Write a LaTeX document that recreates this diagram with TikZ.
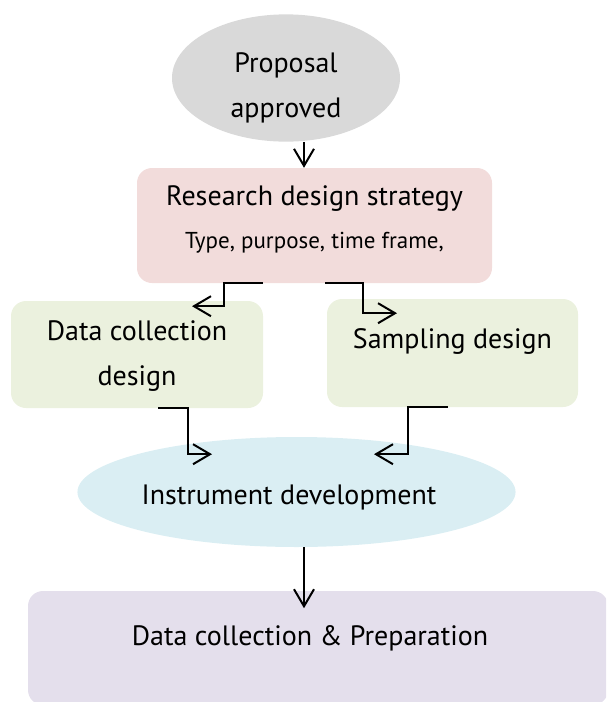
\documentclass[tikz,border=0pt]{standalone}
\usepackage{fontspec}
\setmainfont{PT Sans}
\usetikzlibrary{shapes.geometric,arrows.meta}
\definecolor{greyfill}{HTML}{D9D9D9}
\definecolor{pinkfill}{HTML}{F2DCDB}
\definecolor{greenfill}{HTML}{EBF1DE}
\definecolor{bluefill}{HTML}{DAEEF3}
\definecolor{lilacfill}{HTML}{E4DFEC}

\begin{document}
\begin{tikzpicture}[x=1pt,y=-1pt,
    >={Straight Barb[length=17pt,width=20pt]},
    link/.style={->,line width=2pt},
    bigtext/.style={font=\fontsize{28}{45}\selectfont},
    stage/.style={rectangle,rounded corners=15pt,inner sep=0pt,align=center,bigtext},
    oval/.style={ellipse,inner sep=0pt,align=center,bigtext},
  ]
    \clip (0,0) rectangle (606,702);
    \node[oval,fill=greyfill,minimum width=228pt,minimum height=127pt,
      text height=84pt,text depth=6pt] (proposal) at (286,78) {Proposal\\approved};
    \node[stage,fill=pinkfill,minimum width=355pt,minimum height=115pt,
      text height=50pt,text depth=5pt] (strategy) at (314.5,225.5)
      {Research design strategy\\[-2pt]{\fontsize{23}{28}\selectfont Type, purpose, time frame,}};
    \node[stage,fill=greenfill,minimum width=252pt,minimum height=107pt,
      text height=66pt,text depth=5pt] (collect) at (137,354.5) {Data collection\\design};
    \node[stage,fill=greenfill,minimum width=251pt,minimum height=108pt,
      text height=18pt,text depth=28pt] (sampling) at (452.5,353) {Sampling design};
    \node[oval,fill=bluefill,minimum width=433pt,minimum height=110pt,
      text height=29pt,text depth=5pt] (instrument) at (296.5,492)
      {Instrument development\hspace*{15pt}};
    \node[stage,fill=lilacfill,minimum width=580pt,minimum height=114pt,
      text height=18pt,text depth=23pt] (prep) at (318,648)
      {Data collection \& Preparation\hspace*{16pt}};

    \draw[link] ([xshift=-10.5pt]strategy.north |- proposal.south) -- ([xshift=-10.5pt]strategy.north);
    \draw[link] ([xshift=-51.5pt]strategy.south) -| ++(-39,23) -- ++(-32,0);
    \draw[link] ([xshift=10.5pt]strategy.south) -| ++(38,30) -- ++(34,0);
    \draw[link] ([xshift=21pt]collect.south) -| ++(30,46) -- ++(24,0);
    \draw[link] ([xshift=-4.5pt]sampling.south) -| ++(-40,47) -- ++(-34,0);
    \draw[link] ([xshift=7.5pt]instrument.south) -- ++(0,61);
\end{tikzpicture}
\end{document}
